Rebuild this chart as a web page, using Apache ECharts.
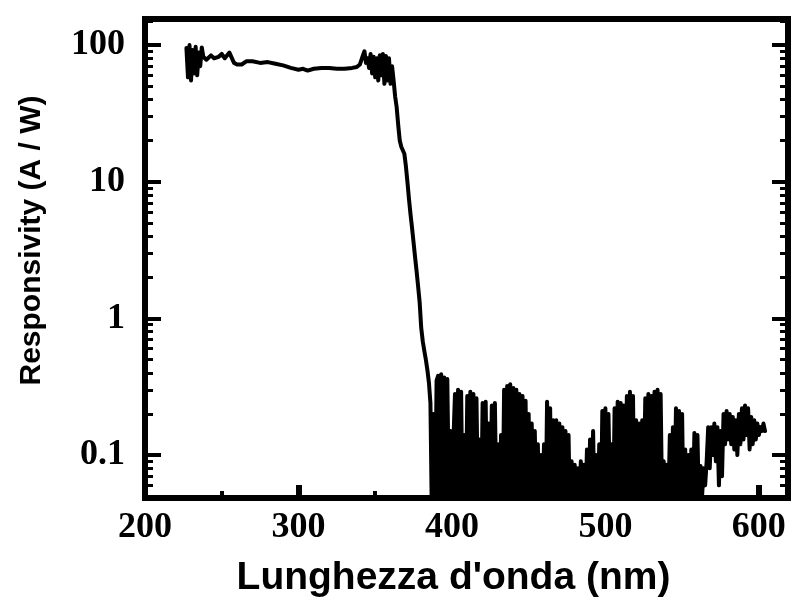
<!DOCTYPE html>
<html>
<head>
<meta charset="utf-8">
<script src="https://cdn.jsdelivr.net/npm/echarts@6/dist/echarts.min.js"></script>
<style>
html,body{margin:0;padding:0;background:#fff;}
#chart{width:795px;height:604px;}
</style>
</head>
<body>
<div id="chart"></div>
<script>
// Wavelength (nm)
const wavelength = [
  227,228,229,230,231,232,233,234,235,236,237,238,
  240,243,245,248,250,252,255,258,260,263,266,270,275,280,285,290,295,300,
  303,306,310,315,320,325,330,335,338,340,
  342,343,344,345,346,347,348,349,350,351,352,353,354,355,356,357,358,359,360,361,
  362,363,364,365,366,367,368,369,370,371,372,373,374,375,376,377,378,379,380,381,
  382,383,384,385,386,
  387,388,389,390,391,392,393,394,395,396,397,398,399,400,401,402,403,404,405,406,
  407,408,409,410,411,412,413,414,415,416,417,418,419,420,421,422,423,424,425,426,
  427,428,429,430,431,432,433,434,435,436,437,438,439,440,441,442,443,444,445,446,
  447,448,449,450,451,452,453,454,455,456,457,458,459,460,461,462,463,464,465,466,
  467,468,469,470,471,472,473,474,475,476,477,478,479,480,481,482,483,484,485,486,
  487,488,489,490,491,492,493,494,495,496,497,498,499,500,501,502,503,504,505,506,
  507,508,509,510,511,512,513,514,515,516,517,518,519,520,521,522,523,524,525,526,
  527,528,529,530,531,532,533,534,535,536,537,538,539,540,541,542,543,544,545,546,
  547,548,549,550,551,552,553,554,555,556,557,558,559,560,561,562,563,564,565,566,
  567,568,569,570,571,572,573,574,575,576,577,578,579,580,581,582,583,584,585,586,
  587,588,589,590,591,592,593,594,595,596,597,598,599,600,601,602,603,604
];
// Responsivity (A/W)
const responsivity = [
  95,58,100,55,92,62,97,60,88,70,96,82,
  78,84,80,82,86,80,88,74,72,72,76,76,74,75,73,71,68,66,
  67,65,67,68,68,67,67,68,69,72,
  84,90,74,80,68,86,62,82,58,80,55,84,60,86,52,83,55,80,52,70,
  55,42,35,26,20,18,17.5,16,13,10,7.5,5.8,4.6,3.6,2.8,2.2,1.7,1.3,0.85,0.68,
  0.58,0.5,0.42,0.34,0.24,
  0.03,0.20,0.03,0.35,0.38,0.03,0.39,0.04,0.37,0.03,0.36,0.05,0.15,0.03,0.13,0.28,0.03,0.30,0.04,0.29,
  0.03,0.14,0.03,0.27,0.03,0.29,0.05,0.28,0.03,0.26,0.04,0.13,0.03,0.24,0.04,0.245,0.03,0.17,0.04,0.23,
  0.03,0.24,0.04,0.12,0.03,0.14,0.03,0.30,0.04,0.32,0.03,0.33,0.04,0.31,0.03,0.30,0.04,0.28,0.03,0.27,
  0.04,0.25,0.03,0.20,0.04,0.17,0.03,0.15,0.04,0.12,0.03,0.10,0.04,0.12,0.03,0.245,0.04,0.22,0.03,0.18,
  0.04,0.18,0.03,0.17,0.04,0.16,0.03,0.15,0.04,0.14,0.03,0.09,0.04,0.085,0.03,0.08,0.04,0.09,0.03,0.085,
  0.04,0.11,0.03,0.13,0.04,0.15,0.03,0.10,0.04,0.12,0.03,0.21,0.04,0.22,0.03,0.20,0.05,0.12,0.03,0.22,
  0.03,0.245,0.04,0.24,0.03,0.23,0.04,0.27,0.03,0.29,0.04,0.27,0.03,0.18,0.04,0.17,0.03,0.18,0.05,0.26,
  0.03,0.28,0.04,0.27,0.03,0.29,0.04,0.30,0.03,0.28,0.04,0.09,0.03,0.085,0.04,0.14,0.03,0.16,0.04,0.22,
  0.03,0.21,0.04,0.20,0.03,0.11,0.04,0.10,0.03,0.11,0.04,0.145,0.03,0.14,0.04,0.083,0.05,0.08,0.06,0.09,
  0.16,0.08,0.16,0.10,0.17,0.09,0.16,0.06,0.15,0.07,0.20,0.12,0.21,0.13,0.20,0.12,0.19,0.11,0.18,0.10,
  0.20,0.12,0.22,0.13,0.23,0.14,0.22,0.11,0.19,0.12,0.18,0.13,0.17,0.14,0.16,0.15,0.17,0.15
];
const xTicks = [200, 300, 400, 500, 600];
const xMinorTicks = [250, 350, 450, 550];
const yTicks = [0.1, 1, 10, 100];
const yMinorTicks = [0.06,0.07,0.08,0.09,0.2,0.3,0.4,0.5,0.6,0.7,0.8,0.9,2,3,4,5,6,7,8,9,20,30,40,50,60,70,80,90,150];
const xTitle = "Lunghezza d'onda (nm)";
const yTitle = "Responsivity (A / W)";

const X_MIN = 200, X_MAX = 619, Y_MIN = 0.0485, Y_MAX = 155;
const black = '#000';
const labelFont = {fontFamily: 'Liberation Serif', fontWeight: 'bold', fontSize: 36, color: black};
const titleFont = {fontFamily: 'Liberation Sans', fontWeight: 'bold', color: black};
const gridRect = {left: 145, right: 7, top: 19, bottom: 106, containLabel: false};
const allYTicks = yTicks.concat(yMinorTicks).sort((a, b) => a - b);

const chart = echarts.init(document.getElementById('chart'), null, {renderer: 'canvas'});
// Frame axes (grid 0): every decade tick, short
const yFrame = (position, withLabel) => ({
  gridIndex: 0, type: 'log', logBase: 10, min: Y_MIN, max: Y_MAX, position: position,
  axisLine: {show: true, onZero: false, lineStyle: {color: black, width: 6}},
  axisTick: {show: true, inside: true, customValues: allYTicks, length: 8, lineStyle: {color: black, width: 3}},
  axisLabel: withLabel ? Object.assign({show: true, customValues: yTicks, margin: 20,
             formatter: v => String(v), padding: [10, 0, 0, 0]}, labelFont) : {show: false},
  splitLine: {show: false}, minorTick: {show: false}, minorSplitLine: {show: false}
});
// Overlay axes (grid 1): longer ticks at the labelled decades
const yLong = (position) => ({
  gridIndex: 1, type: 'log', min: Y_MIN, max: Y_MAX, position: position,
  axisLine: {show: false},
  axisTick: {show: true, inside: true, customValues: yTicks, length: 16, lineStyle: {color: black, width: 4}},
  axisLabel: {show: false}, splitLine: {show: false}
});
const option = {
  backgroundColor: '#fff',
  animation: false,
  grid: [
    Object.assign({show: true, borderColor: black, borderWidth: 6, backgroundColor: 'transparent'}, gridRect),
    Object.assign({}, gridRect)
  ],
  xAxis: [
    {gridIndex: 0, type: 'value', min: X_MIN, max: X_MAX, position: 'bottom',
     axisLine: {show: true, onZero: false, lineStyle: {color: black, width: 6}},
     axisTick: {show: true, inside: true, customValues: xTicks, length: 13, lineStyle: {color: black, width: 6}},
     axisLabel: Object.assign({show: true, customValues: xTicks, margin: 12, formatter: v => String(v)}, labelFont),
     splitLine: {show: false},
     name: xTitle, nameLocation: 'middle', nameGap: 61,
     nameTextStyle: Object.assign({fontSize: 39, padding: [0, 26, 0, 0]}, titleFont)},
    {gridIndex: 1, type: 'value', min: X_MIN, max: X_MAX, position: 'bottom',
     axisLine: {show: false},
     axisTick: {show: true, inside: true, customValues: xMinorTicks, length: 7, lineStyle: {color: black, width: 4}},
     axisLabel: {show: false}, splitLine: {show: false}}
  ],
  yAxis: [
    Object.assign(yFrame('left', true), {
      name: yTitle, nameLocation: 'middle', nameGap: 98,
      nameTextStyle: Object.assign({fontSize: 30, padding: [0, 0, 0, 36]}, titleFont)}),
    yFrame('right', false),
    yLong('left'),
    yLong('right')
  ],
  series: [{
    type: 'line', xAxisIndex: 0, yAxisIndex: 0,
    data: wavelength.map((w, i) => [w, responsivity[i]]),
    showSymbol: false, symbol: 'none', clip: true,
    lineStyle: {color: black, width: 4, join: 'round', cap: 'round'}
  }]
};
chart.setOption(option);
</script>
</body>
</html>
